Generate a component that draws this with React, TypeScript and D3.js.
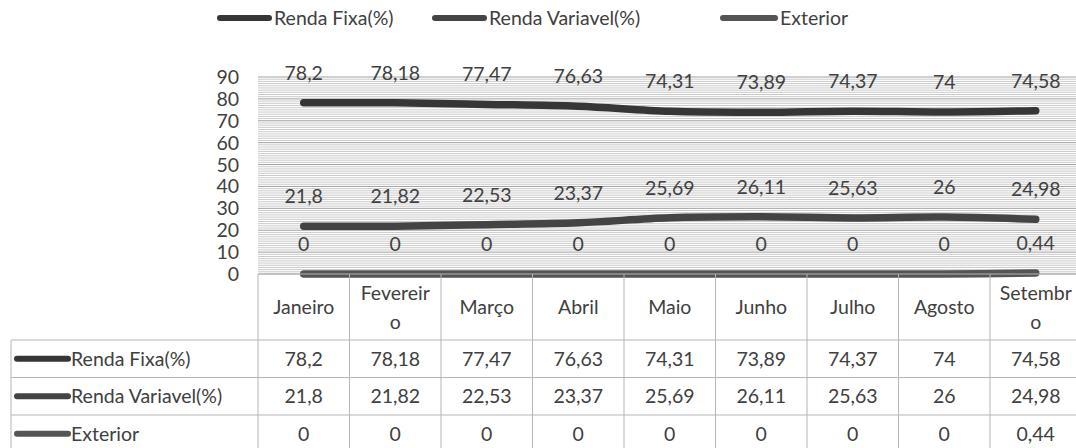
import * as d3 from 'd3'

const months = ['Janeiro', 'Fevereiro', 'Março', 'Abril', 'Maio', 'Junho', 'Julho', 'Agosto', 'Setembro']
// how the header cells wrap in the original table
const monthLines = [['Janeiro'], ['Fevereir', 'o'], ['Março'], ['Abril'], ['Maio'], ['Junho'], ['Julho'], ['Agosto'], ['Setembr', 'o']]

const rendaFixa = [78.2, 78.18, 77.47, 76.63, 74.31, 73.89, 74.37, 74, 74.58]
const rendaVariavel = [21.8, 21.82, 22.53, 23.37, 25.69, 26.11, 25.63, 26, 24.98]
const exterior = [0, 0, 0, 0, 0, 0, 0, 0, 0.44]

const seriesNames = ['Renda Fixa(%)', 'Renda Variavel(%)', 'Exterior']
const yTicks = [0, 10, 20, 30, 40, 50, 60, 70, 80, 90]

const series = [
  { name: seriesNames[0], values: rendaFixa, color: '#363636' },
  { name: seriesNames[1], values: rendaVariavel, color: '#444444' },
  { name: seriesNames[2], values: exterior, color: '#555555' },
]

const fmt = (v: number) => String(v).replace('.', ',')

const W = 1076
const H = 448
const FONT = 'Lato, "Open Sans", sans-serif'
const FS = 19.5
const TXT = '#404040'

export default function App() {
  const x = d3.scaleBand<string>().domain(months).range([258, 1081.5])
  const y = d3.scaleLinear().domain([0, 90]).range([274, 77])
  const cx = (m: string) => (x(m) ?? 0) + x.bandwidth() / 2

  const line = d3.line<number>()
    .x((_, i) => cx(months[i]))
    .y(d => y(d))
    .curve(d3.curveCatmullRom.alpha(0.5))

  const minor = d3.range(0, 91, 1)
  const plotL = 258
  const plotR = 1081.5

  // table geometry
  const headTop = y(0)
  const headBot = 340
  const rowH = 37.5
  const tableL = 11

  const legendItems = [
    { x: 217, w: 55 },
    { x: 432, w: 55 },
    { x: 720, w: 58 },
  ]

  return (
    <svg width={W} height={H} style={{ position: 'absolute', left: 0, top: 0, background: '#fff' }} fontFamily={FONT}>
      {/* legend */}
      {series.map((s, i) => (
        <g key={s.name}>
          <line x1={legendItems[i].x + 3} x2={legendItems[i].x + legendItems[i].w - 3} y1={18} y2={18}
            stroke={s.color} strokeWidth={6} strokeLinecap="round" />
          <text x={legendItems[i].x + legendItems[i].w + 2} y={25} fontSize={FS} fill={TXT}>{s.name}</text>
        </g>
      ))}

      {/* gridlines */}
      {minor.map(v => (
        <line key={v} x1={plotL} x2={plotR} y1={y(v)} y2={y(v)}
          stroke={v % 10 === 0 ? '#a0a0a0' : '#c4c4c4'} strokeWidth={v % 10 === 0 ? 1 : 0.9} />
      ))}

      {/* y axis labels */}
      {yTicks.map(t => (
        <text key={t} x={239} y={y(t) + 7} textAnchor="end" fontSize={FS} fill={TXT}>{t}</text>
      ))}

      {/* series lines */}
      {series.map(s => (
        <path key={s.name} d={line(s.values) ?? ''} fill="none" stroke={s.color}
          strokeWidth={7.5} strokeLinecap="round" strokeLinejoin="round" />
      ))}

      {/* data labels */}
      {series.map(s => s.values.map((v, i) => (
        <text key={s.name + i} x={cx(months[i])} y={y(v) - 23} textAnchor="middle" fontSize={FS} fill={TXT}>{fmt(v)}</text>
      )))}

      {/* data table */}
      <g stroke="#b5b5b5" strokeWidth={1}>
        <line x1={plotL} x2={plotR} y1={headTop} y2={headTop} />
        {[0, 1, 2, 3].map(r => (
          <line key={r} x1={tableL} x2={plotR} y1={headBot + r * rowH} y2={headBot + r * rowH} />
        ))}
        {months.map(m => (
          <line key={m} x1={x(m)} x2={x(m)} y1={headTop} y2={H} />
        ))}
        <line x1={tableL} x2={tableL} y1={headBot} y2={H} />
      </g>

      {months.map((m, i) => {
        const ls = monthLines[i]
        const mid = (headTop + headBot) / 2
        return ls.map((t, j) => (
          <text key={m + j} x={cx(m)} textAnchor="middle" fontSize={FS} fill={TXT}
            y={mid + 7 + (j - (ls.length - 1) / 2) * 29}>{t}</text>
        ))
      })}

      {series.map((s, r) => (
        <g key={s.name}>
          <line x1={17} x2={68} y1={headBot + r * rowH + rowH / 2} y2={headBot + r * rowH + rowH / 2}
            stroke={s.color} strokeWidth={6} strokeLinecap="round" />
          <text x={71} y={headBot + r * rowH + rowH / 2 + 7} fontSize={FS} fill={TXT}>{s.name}</text>
          {s.values.map((v, i) => (
            <text key={i} x={cx(months[i])} y={headBot + r * rowH + rowH / 2 + 7} textAnchor="middle" fontSize={FS} fill={TXT}>{fmt(v)}</text>
          ))}
        </g>
      ))}
    </svg>
  )
}
